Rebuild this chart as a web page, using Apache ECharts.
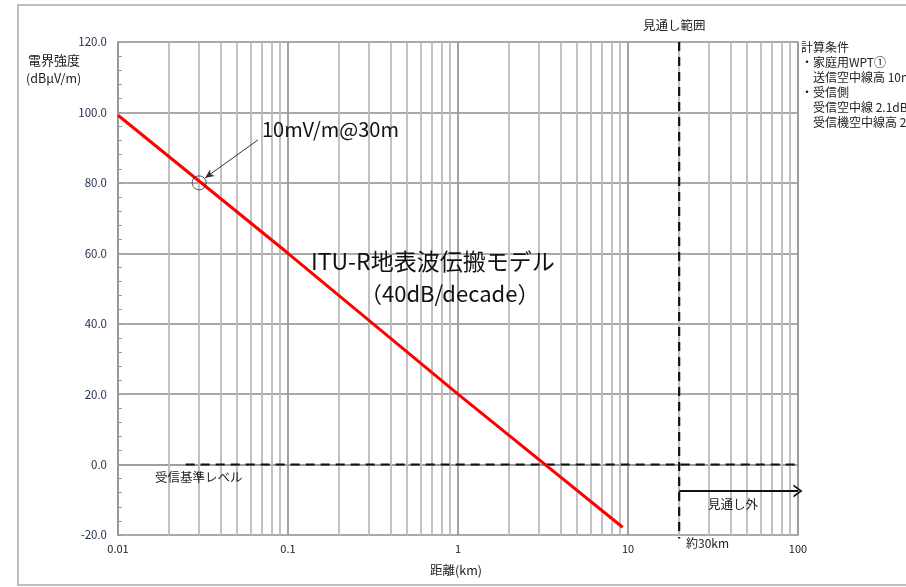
<!DOCTYPE html>
<html>
<head>
<meta charset="utf-8">
<script src="https://cdn.jsdelivr.net/npm/echarts@6/dist/echarts.min.js"></script>
<style>
html,body{margin:0;padding:0;background:#fff;}
#c{width:906px;height:587px;}
</style>
</head>
<body>
<div id="c"></div>
<script>
// ---- data ----
const xTicks = [0.01, 0.1, 1, 10, 100];
const yTicks = [-20, 0, 20, 40, 60, 80, 100, 120];
const itu = [[0.01, 99.2], [0.1, 60], [1, 20], [9.3, -17.8]];      // ITU-R ground wave model
const refLevel = [[0.025, 0], [100, 0]];                             // 受信基準レベル
const losLimit = [[20, 120], [20, -21]];                             // 見通し範囲 boundary
const beyondArrow = [[20, -7.5], [100, -7.5]];                       // 見通し外 arrow
const refPoint = [[0.03, 80]];                                       // 10mV/m@30m
const refPointerFrom = [0.0666, 92.2];
const refPointerTo = [0.0325, 81.4];

const FONT = '"Noto Sans CJK JP", "Noto Sans", sans-serif';

// minor vertical grid lines at 2..9 of each decade
const minorX = [];
for (let d = 0; d < xTicks.length - 1; d++) {
  for (let m = 2; m <= 9; m++) minorX.push(+(xTicks[d] * m).toPrecision(3));
}

const chart = echarts.init(document.getElementById('c'), null, {renderer: 'canvas'});

const T = (left, top, text, size, extra) => Object.assign({
  type: 'text', left: left, top: top, z: 100,
  style: Object.assign({text: text, font: size + 'px ' + FONT, fill: '#222'}, extra || {})
});

const option = {
  backgroundColor: '#fff',
  animation: false,
  grid: {left: 118, right: 108, top: 42, bottom: 52, show: true, borderColor: '#999', borderWidth: 1.5, backgroundColor: 'transparent'},
  xAxis: {
    type: 'log', logBase: 10, min: xTicks[0], max: xTicks[xTicks.length - 1],
    axisLine: {show: true, lineStyle: {color: '#999', width: 1.5}},
    axisTick: {show: false},
    splitLine: {show: true, lineStyle: {color: '#999', width: 1.8}},
    axisLabel: {color: '#222', fontFamily: FONT, fontSize: 11, margin: 8,
      formatter: v => String(+(+v).toPrecision(3))}
  },
  yAxis: {
    type: 'value', min: yTicks[0], max: yTicks[yTicks.length - 1], interval: 20,
    axisLine: {show: true, lineStyle: {color: '#999', width: 1.5}},
    axisTick: {show: true, inside: true, length: 4, lineStyle: {color: '#999'}},
    minorTick: {show: true, splitNumber: 5, length: 4, lineStyle: {color: '#999', width: 1}},
    splitLine: {show: true, lineStyle: {color: '#aaa', width: 1.8}},
    axisLabel: {color: '#1c2c4c', fontFamily: FONT, fontSize: 11.5, margin: 11,
      formatter: v => v.toFixed(1)}
  },
  series: [
    {
      type: 'line', data: [], silent: true, z: 1,
      markLine: {
        silent: true, symbol: ['none', 'none'], label: {show: false}, z: 1,
        lineStyle: {color: '#bbbbbb', width: 1.8, type: 'solid'},
        data: minorX.map(v => ({xAxis: v}))
      }
    },
    {
      name: 'refLevel', type: 'line', data: refLevel, showSymbol: false, silent: true,
      lineStyle: {color: '#111', width: 2, type: [9, 6]}, z: 10
    },
    {
      name: 'losLimit', type: 'line', data: losLimit, showSymbol: false, silent: true, clip: false,
      lineStyle: {color: '#111', width: 2.2, type: [9, 6]}, z: 10
    },
    {
      name: 'ITU', type: 'line', data: itu, showSymbol: false, silent: true,
      lineStyle: {color: '#ff0000', width: 3}, z: 11
    },
    {
      name: 'beyond', type: 'line', data: [], silent: true, z: 10,
      markLine: {
        silent: true, z: 10, symbol: ['none', 'path://M0,12 L6,0 L12,12 L10.2,12 L6,3.6 L1.8,12 Z'], symbolSize: [13, 9],
        label: {show: false},
        lineStyle: {color: '#111', width: 2, type: 'solid'},
        data: [[{coord: beyondArrow[0]}, {coord: beyondArrow[1]}]]
      }
    },
    {
      name: 'pointer', type: 'line', data: [], silent: true, z: 10,
      markLine: {
        silent: true, z: 10, symbol: ['none', 'arrow'], symbolSize: [6, 9],
        label: {show: false},
        lineStyle: {color: '#333', width: 1, type: 'solid'},
        data: [[{coord: refPointerFrom}, {coord: refPointerTo}]]
      }
    },
    {
      name: 'refPoint', type: 'scatter', data: refPoint, symbol: 'circle', symbolSize: 14, silent: true,
      itemStyle: {color: 'rgba(0,0,0,0)', borderColor: '#333', borderWidth: 1}, z: 12
    }
  ],
  graphic: [
    {type: 'rect', shape: {x: 18, y: 5, width: 900, height: 580}, style: {fill: 'none', stroke: '#aaa', lineWidth: 1.5}, z: -10},
    T(28, 54, '電界強度', 13),
    T(26, 72, '(dBμV/m)', 12.5),
    T(643, 19, '見通し範囲', 12.5),
    T(801, 40, '計算条件\n・家庭用WPT①\n　送信空中線高 10m\n・受信側\n　受信空中線 2.1dBi\n　受信機空中線高 2m', 12, {lineHeight: 15}),
    T(262, 119, '10mV/m@30m', 20, {fill: '#111'}),
    T(311, 250, 'ITU-R地表波伝搬モデル', 23, {fill: '#111'}),
    T(360, 283, '（40dB/decade）', 22, {fill: '#111'}),
    T(155, 471, '受信基準レベル', 12.5),
    T(708, 498, '見通し外', 12.5),
    T(686, 537, '約30km', 12),
    T(430, 564, '距離(km)', 12.5)
  ]
};
chart.setOption(option);
</script>
</body>
</html>
